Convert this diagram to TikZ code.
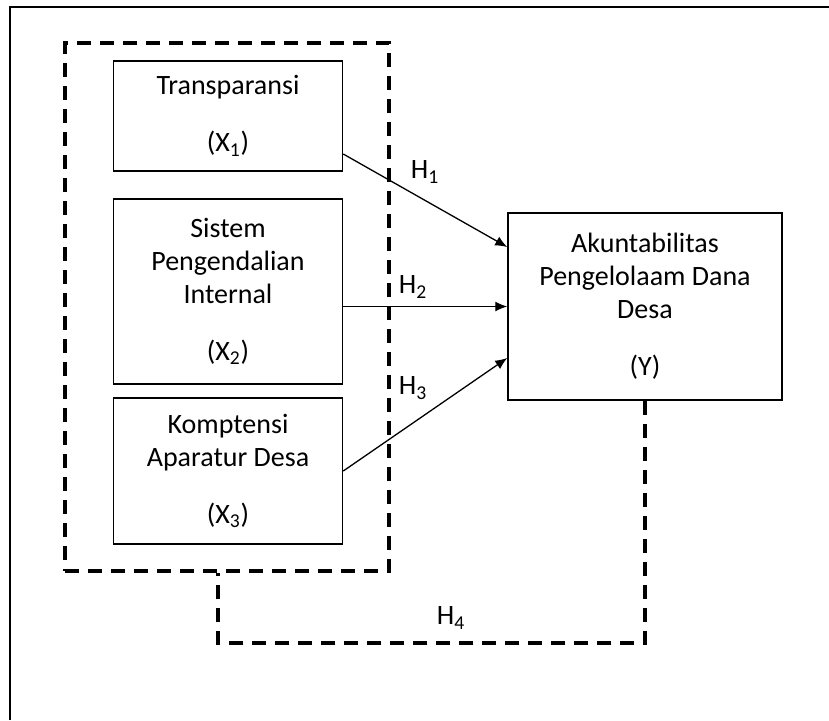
\documentclass[tikz,border=0pt]{standalone}
\usepackage{fontspec}
\setmainfont{Carlito}
\usepackage{tikz}
\usetikzlibrary{arrows.meta,calc}

\tikzset{
  var/.style={draw, line width=0.75pt, align=center, inner sep=0pt,
              font=\fontsize{14}{16.5}\selectfont},
  grpbox/.style={draw, dash pattern=on 7pt off 4.5pt, line width=1.7pt, inner sep=0pt},
  hyp/.style={-{Latex[length=6pt,width=5pt]}, line width=0.65pt},
  hypdash/.style={dash pattern=on 7pt off 4.5pt, line width=1.7pt},
  hlabel/.style={inner sep=0pt, font=\fontsize{14}{16.5}\selectfont}
}

\begin{document}
\begin{tikzpicture}[x=0.5pt, y=-0.5pt]
      \useasboundingbox (0,0) rectangle (829,720);
      \coordinate (fa) at (10,720);
      \coordinate (fb) at (829,7);
      \draw[line width=1pt] (fa) |- (fb);

      \node[grpbox, minimum width=162pt, minimum height=264pt] (grp) at (227,307) {};

      \node[var, minimum width=114.5pt, minimum height=55pt]   (x1) at (228,116)
           {Transparansi\\[12pt](X\textsubscript{1})};
      \node[var, minimum width=114.5pt, minimum height=92.5pt] (x2) at (228,291.5)
           {Sistem\\Pengendalian\\Internal\\[12pt](X\textsubscript{2})};
      \node[var, minimum width=114.5pt, minimum height=73pt]   (x3) at (228,471)
           {Komptensi\\Aparatur Desa\\[12pt](X\textsubscript{3})};
      \node[var, minimum width=137pt, minimum height=93.5pt]   (y)  at (645,306.5)
           {Akuntabilitas\\Pengelolaam Dana\\Desa\\[12pt](Y)};

      \node[hlabel] (h1) at (425,172) {H\textsubscript{1}};
      \node[hlabel] (h2) at (413,287) {H\textsubscript{2}};
      \node[hlabel] (h3) at (413,388) {H\textsubscript{3}};
      \node[hlabel] (h4) at (451,618) {H\textsubscript{4}};

      \path ($(x1.east)+(0,38)$) edge[hyp] ($(y.west)+(0,-59.5)$)
            (y.west -| x2.east) edge[hyp] (y.west)
            (x3.east) edge[hyp] ($(y.west)+(0,51.5)$);

      \coordinate (h4c) at (218,643);
      \draw[hypdash] (y.south) -- (y.south |- h4c) -- (h4c) -- (h4c |- grp.south);
    \end{tikzpicture}
\end{document}
